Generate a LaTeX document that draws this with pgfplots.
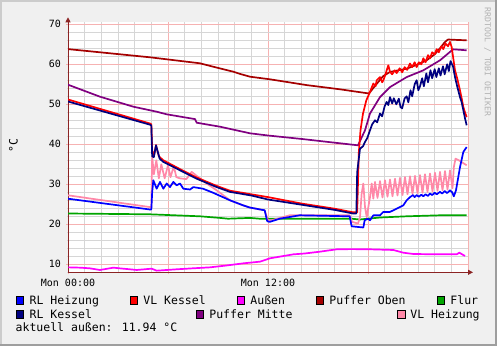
\documentclass[border=0pt]{standalone}
\usepackage{pgfplots}
\pgfplotsset{compat=1.18}
\usepackage{fontspec}
\setmainfont{DejaVu Sans Mono}
\usetikzlibrary{arrows.meta}
\definecolor{bgc}{RGB}{240,240,240}
\definecolor{majg}{RGB}{246,178,178}
\definecolor{ming}{RGB}{214,214,214}
\definecolor{axc}{RGB}{140,36,36}
\definecolor{cRLH}{RGB}{0,0,255}
\definecolor{cVLK}{RGB}{255,0,0}
\definecolor{cAus}{RGB}{255,0,255}
\definecolor{cPO}{RGB}{165,0,0}
\definecolor{cFlur}{RGB}{0,165,0}
\definecolor{cRLK}{RGB}{0,0,128}
\definecolor{cPM}{RGB}{128,0,128}
\definecolor{cVLH}{RGB}{255,136,168}
\newcommand{\legfont}{\fontsize{11.5}{13}\selectfont}
\newcommand{\legbox}[3]{\filldraw[fill=#3,draw=black,line width=0.8pt] (#1,#2) rectangle ++(7.3,7.3);}
\begin{document}
\begin{tikzpicture}[x=1pt,y=1pt]
\useasboundingbox (0,0) rectangle (497,346);
\fill[bgc] (0,0) rectangle (497,346);
\fill[black!20] (0,344) rectangle (497,346);
\fill[black!20] (0,0) rectangle (2,346);
\fill[black!38] (0,0) rectangle (497,2);
\fill[black!38] (495,0) rectangle (497,346);
\begin{axis}[
  at={(68pt,73.7pt)}, anchor=south west,
  scale only axis, width=400pt, height=250pt,
  xmin=0, xmax=24, ymin=8, ymax=70.5,
  axis background/.style={fill=white},
  axis lines=left,
  axis line style={draw=axc, line width=0.8pt},
  x axis line style={-{Triangle[length=5pt,width=5pt]}, shorten >=-5pt},
  y axis line style={-{Triangle[length=5pt,width=5pt]}, shorten >=-5pt},
  xtick={0,6,12,18,24}, xticklabels={Mon 00:00,,Mon 12:00,,},
  minor xtick={0,1,...,24},
  ytick={10,20,...,70},
  minor ytick={8,10,...,70},
  grid=both,
  major grid style={draw=majg, line width=0.7pt},
  minor grid style={draw=ming, line width=0.7pt},
  tick align=center,
  major tick length=4pt, minor tick length=2pt,
  major tick style={draw=majg, line width=0.7pt},
  minor tick style={draw=ming, line width=0.7pt},
  /pgf/number format/assume math mode=true,
  every tick label/.append style={font=\fontsize{10}{12}\selectfont},
  yticklabel style={anchor=east, inner sep=0pt, xshift=-5pt},
  xticklabel style={anchor=north, inner sep=0pt, yshift=-5pt},
  every axis plot/.append style={line width=1.7pt, line join=round},
  clip=true,
]
% Außen
\addplot[cAus] coordinates {
(0.02,9.24)(0.72,9.16)(1.3,9.0)(1.92,8.58)(2.72,9.16)(3.2,8.95)(3.52,8.83)(4.12,8.58)(5.02,8.91)(5.32,8.41)(6.52,8.75)(7.5,9.0)(8.52,9.24)(9.5,9.7)(10.52,10.24)(11.52,10.66)(12.12,11.5)(13.52,12.49)(14.2,12.7)(15.12,13.16)(16.12,13.75)(17.0,13.8)(18.12,13.75)(19.52,13.58)(20.12,12.9)(20.72,12.58)(22.0,12.5)(23.32,12.49)(23.48,12.9)(23.82,12.08)};
% Flur
\addplot[cFlur] coordinates {
(0,22.7)(4.92,22.5)(7.92,22.0)(9.12,21.6)(9.6,21.4)(10.92,21.6)(11.5,21.4)(17,21.4)(17.5,21.2)(18.72,21.7)(20.32,22.0)(22.32,22.25)(23.92,22.25)};
% Puffer Oben
\addplot[cPO] coordinates {
(0,63.8)(1.92,63.0)(4.92,61.75)(7.92,60.25)(8.9,59.2)(9.92,58.15)(10.32,57.6)(10.92,56.9)(12.12,56.25)(14.32,54.8)(16.32,53.75)(18.06,52.7)(18.4,54.5)(18.9,57.0)(19.32,58.1)(20.32,58.9)(21.0,60.0)(21.52,61.0)(22.0,62.5)(22.32,64.0)(22.6,65.5)(22.8,66.2)(23.3,66.1)(23.92,66.0)};
% Puffer Mitte
\addplot[cPM] coordinates {
(0,54.9)(1.92,51.9)(3.92,49.4)(5.32,48.15)(5.92,47.5)(7.62,46.3)(7.72,45.4)(9.12,44.4)(10.92,42.75)(12,42.2)(14.1,41.3)(16,40.4)(17.4,39.75)(17.82,43.5)(18.12,47.7)(18.72,51.8)(19.32,54.3)(20.32,56.8)(21.32,58.5)(22.32,61.0)(22.92,63.1)(23.12,63.75)(23.92,63.5)};
% VL Heizung
\addplot[cVLH] coordinates {
(0,27.25)(4.92,24.3)(5.0,24.3)(5.05,37.0)(5.15,32.5)(5.3,36.0)(5.45,31.5)(5.6,35.0)(5.8,31.5)(6.0,34.8)(6.15,31.8)(6.35,34.5)(6.5,31.8)(6.7,31.5)(7.1,31.3)(7.42,33.1)(8.32,30.2)(8.92,28.5)(9.72,26.0)(10.5,24.75)(10.9,24.2)(11.8,23.5)(12.0,21.0)(12.2,21.0)(13.3,22.25)(16.9,22.25)(17.05,20.6)(17.4,20.2)(17.52,21.8)(17.62,27.7)(17.72,30.2)(17.82,24.3)(17.92,21.8)(18.02,24.3)(18.12,26.8)(18.22,30.2)(18.32,26.4)
(18.42,30.6)(18.57,26.6)(18.72,30.8)(18.87,26.7)(19.02,31.0)(19.17,26.9)(19.32,31.2)(19.47,27.0)(19.62,31.4)(19.77,27.2)(19.92,31.6)(20.07,27.3)(20.22,31.8)(20.37,27.5)(20.52,32.0)(20.67,27.6)(20.82,32.1)(20.97,27.8)(21.12,32.3)(21.27,27.9)(21.42,32.5)(21.57,28.1)(21.72,32.7)(21.87,28.2)(22.02,32.9)(22.17,28.4)(22.32,33.1)(22.47,28.5)(22.62,33.3)(22.77,28.7)(22.92,33.5)(23.07,29.0)(23.15,34.3)(23.25,36.4)(23.45,36.0)(23.92,34.75)};
% RL Heizung
\addplot[cRLH] coordinates {
(0,26.4)(4.92,23.7)(5.0,23.7)(5.05,28.0)(5.12,31.0)(5.32,28.9)(5.52,30.6)(5.72,28.9)(5.92,30.2)(6.12,29.3)(6.32,30.6)(6.52,29.75)(6.72,30.2)(6.92,28.9)(7.32,28.7)(7.52,29.3)(8.1,28.9)(8.7,27.9)(9.72,26.0)(10.5,24.75)(10.9,24.2)(11.8,23.5)(11.95,20.8)(12.1,20.6)(12.7,21.4)(13.9,22.25)(16.9,22.0)(17.02,19.5)(17.72,19.2)(17.8,21.0)(18.0,21.4)(18.12,21.0)(18.32,22.25)(18.72,22.25)(18.92,23.1)(19.32,23.1)(19.72,23.9)(20.12,24.75)(20.32,26.0)(20.52,26.8)(20.7,27.3)(20.8,26.8)(20.92,27.3)(21.05,26.9)(21.2,27.4)(21.32,27.0)(21.45,27.5)(21.6,27.1)(21.72,27.7)(21.85,27.3)(22.0,27.9)(22.12,27.5)(22.32,28.1)(22.45,27.7)(22.6,28.3)(22.75,27.8)(22.92,28.5)(23.05,28.0)(23.15,27.0)(23.28,28.5)(23.52,34.3)(23.72,38.1)(23.92,39.3)};
% VL Kessel
\addplot[cVLK] coordinates {
(0,51.2)(4.92,45.2)(5.0,45.0)(5.05,38.5)(5.15,37.0)(5.28,39.8)(5.45,37.0)(5.72,36.0)(6.72,33.8)(7.72,31.7)(8.92,29.6)(9.72,28.4)(11,27.5)(12,26.8)(14,25.2)(16,23.9)(17.1,23.0)(17.35,23.0)(17.45,38)(17.55,43.5)(17.7,47.7)(17.9,51.0)(18.12,53.1)(18.32,55.2)(18.45,54.5)(18.52,56.0)(18.72,56.8)(18.85,55.5)(18.92,56.0)(19.05,57.5)(19.12,58.5)(19.22,59.75)(19.32,58.1)(19.45,57.5)(19.6,58.5)(19.72,57.8)(19.9,59.0)(20.05,58.0)(20.2,59.3)(20.35,58.6)(20.52,60.2)(20.65,59.3)(20.8,60.5)(20.92,59.3)(21.05,60.5)(21.2,60.0)(21.32,61.5)(21.45,60.5)(21.6,62.3)(21.72,61.5)(21.85,63.0)(22.0,62.5)(22.12,63.8)(22.25,63.0)(22.4,64.5)(22.52,63.8)(22.65,65.2)(22.8,64.5)(22.92,65.6)(23.02,64.3)(23.1,62.0)(23.22,58.5)(23.35,56.5)(23.52,53.5)(23.62,51.5)(23.72,49.3)(23.82,48.0)(23.92,46.8)};
% RL Kessel
\addplot[cRLK] coordinates {
(0,50.7)(4.92,44.9)(5.0,44.7)(5.05,37.0)(5.15,36.8)(5.28,39.75)(5.5,36.4)(5.72,35.6)(6.72,33.5)(7.72,31.4)(8.92,29.3)(9.72,28.1)(11.0,27.2)(12,26.2)(14,24.9)(16,23.6)(17.1,22.7)(17.3,22.7)(17.35,33)(17.52,38.9)(17.7,39.5)(17.82,40.6)(17.95,41.5)(18.12,43.5)(18.25,45.0)(18.42,46.0)(18.55,45.5)(18.72,47.7)(18.85,47.0)(19.0,49.5)(19.12,50.6)(19.22,49.8)(19.32,51.8)(19.45,50.2)(19.55,51.5)(19.7,50.0)(19.85,51.4)(19.95,49.3)(20.05,49.0)(20.2,51.5)(20.32,52.0)(20.42,50.5)(20.55,53.5)(20.65,52.0)(20.8,55.0)(20.92,56.0)(21.02,53.5)(21.12,54.5)(21.25,56.5)(21.35,54.5)(21.5,57.7)(21.6,55.5)(21.75,58.5)(21.85,56.5)(22.0,58.8)(22.1,56.8)(22.25,59.0)(22.35,57.2)(22.5,59.5)(22.6,57.5)(22.75,60.0)(22.85,58.3)(22.95,60.8)(23.02,60.2)(23.1,59.5)(23.22,56.8)(23.35,54.5)(23.52,51.8)(23.62,50.5)(23.72,48.5)(23.82,46.5)(23.92,44.75)};
\end{axis}
% unit label and watermark
\node[rotate=90, inner sep=0pt, font=\legfont] at (13.5,200.5) {°C};
\node[rotate=-90, inner sep=0pt, font=\fontsize{8.2}{9}\selectfont, text=black!30] at (487.5,284) {RRDTOOL / TOBI OETIKER};
% legend
\legbox{16.3}{42}{cRLH}
\node[anchor=base west, inner sep=0pt, font=\legfont] at (29.5,42) {RL Heizung};
\legbox{130.3}{42}{cVLK}
\node[anchor=base west, inner sep=0pt, font=\legfont] at (143.2,42) {VL Kessel};
\legbox{237.3}{42}{cAus}
\node[anchor=base west, inner sep=0pt, font=\legfont] at (250.2,42) {Außen};
\legbox{316.3}{42}{cPO}
\node[anchor=base west, inner sep=0pt, font=\legfont] at (329.2,42) {Puffer Oben};
\legbox{437.3}{42}{cFlur}
\node[anchor=base west, inner sep=0pt, font=\legfont] at (450.2,42) {Flur};
\legbox{16.3}{28}{cRLK}
\node[anchor=base west, inner sep=0pt, font=\legfont] at (29.5,28) {RL Kessel};
\legbox{196.3}{28}{cPM}
\node[anchor=base west, inner sep=0pt, font=\legfont] at (209.2,28) {Puffer Mitte};
\legbox{397.7}{28}{cVLH}
\node[anchor=base west, inner sep=0pt, font=\legfont] at (410.2,28) {VL Heizung};
\node[anchor=base west, inner sep=0pt, font=\legfont] at (15.5,14.3) {aktuell außen: 11.94 °C};
\end{tikzpicture}
\end{document}
